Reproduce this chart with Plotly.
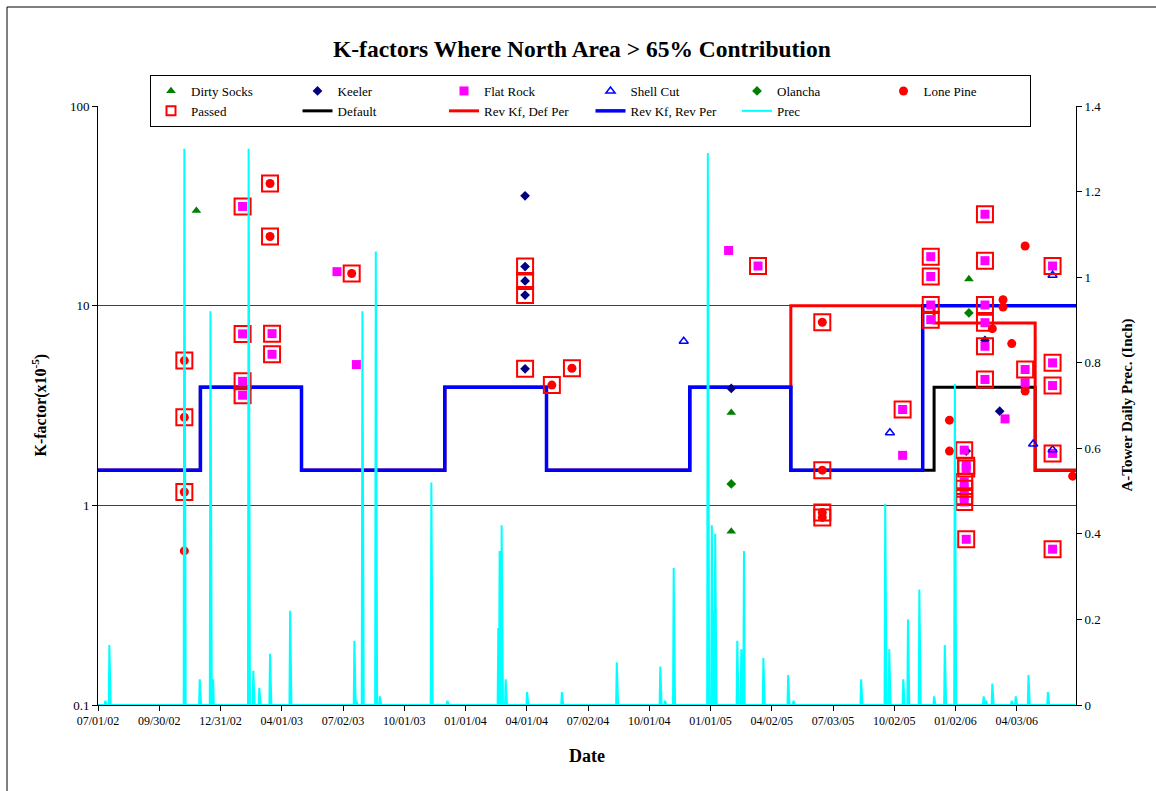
import pandas as pd
import plotly.graph_objects as go

# ---------------- K-factor observations (x10^-5) by monitoring site ----------------
dirty_socks_dates = ["2002-11-25", "2005-02-01", "2005-02-01", "2006-01-22"]
dirty_socks_kf = [29.9, 2.91, 0.74, 13.6]
dirty_socks_passed = [False, False, False, False]

keeler_dates = ["2004-03-30", "2004-03-30", "2004-03-30", "2004-03-30", "2004-03-30",
                "2005-02-01", "2006-01-18", "2006-02-15", "2006-03-09"]
keeler_kf = [35.5, 15.7, 13.3, 11.3, 4.83, 3.85, 1.87, 6.7, 2.96]
keeler_passed = [False, True, True, True, True, False, False, False, False]

flat_rock_dates = ["2003-02-02", "2003-02-02", "2003-02-02", "2003-02-02",
                   "2003-03-18", "2003-03-18", "2003-06-23", "2003-07-22",
                   "2005-01-28", "2005-03-13", "2005-10-15", "2005-10-15",
                   "2005-11-26", "2005-11-26", "2005-11-26", "2005-11-26",
                   "2006-01-15", "2006-01-15", "2006-01-15", "2006-01-15", "2006-01-15",
                   "2006-01-18", "2006-01-18", "2006-01-18",
                   "2006-02-15", "2006-02-15", "2006-02-15", "2006-02-15", "2006-02-15", "2006-02-15",
                   "2006-03-17", "2006-04-16", "2006-04-16",
                   "2006-05-27", "2006-05-27", "2006-05-27", "2006-05-27", "2006-05-27"]
flat_rock_kf = [31.4, 7.22, 4.18, 3.56,
                7.24, 5.71, 14.8, 5.07,
                18.9, 15.8, 3.02, 1.78,
                17.6, 14.0, 10.08, 8.51,
                1.89, 1.31, 1.21, 1.11, 1.04,
                1.58, 1.53, 0.676,
                28.7, 16.8, 10.08, 8.22, 6.26, 4.27,
                2.71, 4.79, 4.11,
                15.8, 5.17, 3.98, 1.82, 0.603]
flat_rock_passed = [True, True, True, True,
                    True, True, False, False,
                    False, True, True, False,
                    True, True, True, True,
                    True, True, True, True, True,
                    True, True, True,
                    True, True, True, True, True, True,
                    False, True, False,
                    True, True, True, True, True]

shell_cut_dates = ["2004-11-22", "2005-09-26", "2006-04-28", "2006-05-27", "2006-05-27"]
shell_cut_kf = [6.63, 2.31, 2.03, 1.9, 14.2]
shell_cut_passed = [False, False, False, False, False]

olancha_dates = ["2005-02-01", "2006-01-22"]
olancha_kf = [1.28, 9.19]
olancha_passed = [False, False]

lone_pine_dates = ["2002-11-07", "2002-11-07", "2002-11-07", "2002-11-07",
                   "2003-03-15", "2003-03-15", "2003-07-15",
                   "2004-05-09", "2004-06-08",
                   "2005-06-17", "2005-06-17", "2005-06-17", "2005-06-17",
                   "2005-12-24", "2005-12-24", "2006-02-26",
                   "2006-03-14", "2006-03-14", "2006-03-27",
                   "2006-04-16", "2006-04-16", "2006-06-26"]
lone_pine_kf = [5.31, 2.76, 1.166, 0.591,
                40.9, 22.2, 14.5,
                4.0, 4.86,
                8.26, 1.50, 0.92, 0.87,
                2.67, 1.87, 7.67,
                10.7, 9.85, 6.46,
                19.9, 3.74, 1.40]
lone_pine_passed = [True, True, True, False,
                    True, True, True,
                    True, True,
                    True, True, True, True,
                    False, False, False,
                    False, False, False,
                    False, False, False]

# ---------------- K-factor schedules (step functions) ----------------
default_dates = ["2002-07-01", "2002-12-01", "2003-05-01", "2003-12-01", "2004-05-01",
                 "2004-12-01", "2005-05-01", "2005-12-01", "2006-05-01", "2006-07-01"]
default_kf = [1.5, 3.9, 1.5, 3.9, 1.5, 3.9, 1.5, 3.9, 1.5, 1.5]

rev_def_dates = ["2002-07-01", "2002-12-01", "2003-05-01", "2003-12-01", "2004-05-01",
                 "2004-12-01", "2005-05-01", "2005-12-01", "2006-05-01", "2006-07-01"]
rev_def_kf = [1.5, 3.9, 1.5, 3.9, 1.5, 3.9, 10.0, 8.2, 1.5, 1.5]

rev_rev_dates = ["2002-07-01", "2002-12-01", "2003-05-01", "2003-12-01", "2004-05-01",
                 "2004-12-01", "2005-05-01", "2005-11-14", "2006-07-01"]
rev_rev_kf = [1.5, 3.9, 1.5, 3.9, 1.5, 3.9, 1.5, 10.0, 10.0]

# ---------------- A-Tower daily precipitation (inches, rain days) ----------------
rain_dates = ["2002-07-12", "2002-07-18", "2002-11-07", "2002-11-30", "2002-12-16",
              "2002-12-20", "2003-02-11", "2003-02-18", "2003-02-27", "2003-03-15",
              "2003-04-14", "2003-07-19", "2003-07-22", "2003-07-31", "2003-08-20",
              "2003-08-26", "2003-11-11", "2003-12-05", "2004-02-19", "2004-02-21",
              "2004-02-24", "2004-03-01", "2004-04-02", "2004-05-24", "2004-08-14",
              "2004-10-18", "2004-10-25", "2004-11-07", "2004-12-28", "2005-01-03",
              "2005-01-06", "2005-01-08", "2005-02-10", "2005-02-16", "2005-02-20",
              "2005-03-21", "2005-04-27", "2005-05-05", "2005-08-14", "2005-09-19",
              "2005-09-25", "2005-10-16", "2005-10-23", "2005-11-09", "2005-12-01",
              "2005-12-17", "2006-01-01", "2006-02-13", "2006-02-17", "2006-02-26",
              "2006-03-27", "2006-04-02", "2006-04-21", "2006-05-20"]
rain_inches = [0.01, 0.14, 1.30, 0.06, 0.92,
               0.06, 1.30, 0.08, 0.04, 0.12,
               0.22, 0.15, 0.01, 0.92, 1.06,
               0.02, 0.52, 0.01, 0.18, 0.36,
               0.42, 0.06, 0.03, 0.03, 0.10,
               0.09, 0.01, 0.32, 1.29, 0.42,
               0.22, 0.40, 0.15, 0.13, 0.36,
               0.11, 0.07, 0.01, 0.06, 0.47,
               0.13, 0.06, 0.20, 0.27, 0.02,
               0.14, 0.75, 0.02, 0.01, 0.05,
               0.01, 0.02, 0.07, 0.03]

x_tick_labels = ["07/01/02", "09/30/02", "12/31/02", "04/01/03", "07/02/03", "10/01/03",
                 "01/01/04", "04/01/04", "07/02/04", "10/01/04", "01/01/05", "04/02/05",
                 "07/03/05", "10/02/05", "01/02/06", "04/03/06"]

# ---------------- build figure ----------------
SERIF = "Liberation Serif, Times New Roman, serif"

# daily precipitation record: dry days are zero
all_days = pd.date_range("2002-07-01", "2006-06-30", freq="D")
prec = pd.Series(0.0, index=all_days)
prec.loc[pd.to_datetime(rain_dates)] = rain_inches

sites = [
    ("Dirty Socks", dirty_socks_dates, dirty_socks_kf, dirty_socks_passed,
     dict(symbol="triangle-up", color="#008000", size=8.5)),
    ("Keeler", keeler_dates, keeler_kf, keeler_passed,
     dict(symbol="diamond", color="#000080", size=7.5)),
    ("Flat Rock", flat_rock_dates, flat_rock_kf, flat_rock_passed,
     dict(symbol="square", color="#FF00FF", size=9)),
    ("Shell Cut", shell_cut_dates, shell_cut_kf, shell_cut_passed,
     dict(symbol="triangle-up-open", color="#0000FF", size=8,
          line=dict(color="#0000FF", width=1.5))),
    ("Olancha", olancha_dates, olancha_kf, olancha_passed,
     dict(symbol="diamond", color="#008000", size=7.5)),
    ("Lone Pine", lone_pine_dates, lone_pine_kf, lone_pine_passed,
     dict(symbol="circle", color="#FF0000", size=9)),
]

passed_x, passed_y = [], []
for _, d, k, p, _ in sites:
    for di, ki, pi in zip(d, k, p):
        if pi:
            passed_x.append(di)
            passed_y.append(ki)

fig = go.Figure()

fig.add_trace(go.Scatter(x=default_dates, y=default_kf, mode="lines", name="Default",
                         line=dict(color="#000000", width=3, shape="hv"), legendrank=8))
fig.add_trace(go.Scatter(x=rev_def_dates, y=rev_def_kf, mode="lines", name="Rev Kf, Def Per",
                         line=dict(color="#FF0000", width=3, shape="hv"), legendrank=9))
fig.add_trace(go.Scatter(x=rev_rev_dates, y=rev_rev_kf, mode="lines", name="Rev Kf, Rev Per",
                         line=dict(color="#0000FF", width=3.5, shape="hv"), legendrank=10))

for rank, (name, d, k, p, mk) in enumerate(sites, start=1):
    fig.add_trace(go.Scatter(x=d, y=k, mode="markers", name=name, marker=mk,
                             legendrank=rank))

# boxes around passed samples; the legend key uses a smaller box
passed_box = dict(symbol="square-open", color="#FF0000", line=dict(color="#FF0000", width=2))
fig.add_trace(go.Scatter(x=passed_x, y=passed_y, mode="markers", name="Passed",
                         marker=dict(size=16, **passed_box), showlegend=False))
fig.add_trace(go.Scatter(x=[None], y=[None], mode="markers", name="Passed",
                         marker=dict(size=9, **passed_box), legendrank=7))

fig.add_trace(go.Scatter(x=prec.index, y=prec.values, mode="lines", name="Prec",
                         line=dict(color="#00FFFF", width=2), yaxis="y2", legendrank=11))

tick_vals = [pd.Timestamp("2002-07-01") + pd.Timedelta(days=91.5 * i)
             for i in range(len(x_tick_labels))]

axis_font = dict(family=SERIF, size=13, color="#000000")

fig.update_layout(
    width=1156, height=791,
    margin=dict(l=98, r=80, t=106, b=86),
    paper_bgcolor="white", plot_bgcolor="white",
    font=dict(family=SERIF, color="#000000"),
    showlegend=True,
    xaxis=dict(type="date", range=["2002-07-01", "2006-07-01"],
               tickvals=tick_vals, ticktext=x_tick_labels,
               ticks="outside", ticklen=5, tickcolor="#000000",
               showline=True, linecolor="#000000", linewidth=1,
               showgrid=False, zeroline=False, tickfont=dict(family=SERIF, size=12)),
    yaxis=dict(type="log", range=[-1, 2],
               tickvals=[0.1, 1, 10, 100], ticktext=["0.1", "1", "10", "100"],
               ticks="outside", ticklen=5, tickcolor="#000000",
               showline=True, linecolor="#000000", linewidth=1,
               showgrid=True, gridcolor="#404040", gridwidth=1,
               zeroline=False, tickfont=axis_font),
    yaxis2=dict(overlaying="y", side="right", range=[0, 1.4],
                tickvals=[0, 0.2, 0.4, 0.6, 0.8, 1.0, 1.2, 1.4],
                ticktext=["0", "0.2", "0.4", "0.6", "0.8", "1", "1.2", "1.4"],
                ticks="outside", ticklen=5, tickcolor="#000000",
                showline=True, linecolor="#000000", linewidth=1,
                showgrid=False, zeroline=False, tickfont=axis_font),
    legend=dict(orientation="h", x=(150 - 98) / 978, y=(705 - 75) / 599,
                xanchor="left", yanchor="top",
                bgcolor="white", bordercolor="#000000", borderwidth=1,
                entrywidth=101.5, entrywidthmode="pixels",
                font=dict(family=SERIF, size=13, color="#000000"),
                itemsizing="trace", traceorder="normal"),
)

fig.add_annotation(text="<b>K-factors Where North Area > 65% Contribution</b>",
                   xref="paper", yref="paper", x=(582 - 98) / 978, y=(705 - 49) / 599,
                   xanchor="center", yanchor="middle",
                   showarrow=False, font=dict(family=SERIF, size=23.5, color="#000000"))
fig.add_annotation(text="<b>K-factor(x10<sup>-5</sup>)</b>", textangle=-90,
                   xref="paper", yref="paper", x=(40 - 98) / 978, y=0.5,
                   xanchor="center", yanchor="middle",
                   showarrow=False, font=dict(family=SERIF, size=16, color="#000000"))
fig.add_annotation(text="<b>A-Tower Daily Prec. (Inch)</b>", textangle=-90,
                   xref="paper", yref="paper", x=(1127 - 98) / 978, y=0.5,
                   xanchor="center", yanchor="middle",
                   showarrow=False, font=dict(family=SERIF, size=15, color="#000000"))
fig.add_annotation(text="<b>Date</b>",
                   xref="paper", yref="paper", x=(587 - 98) / 978, y=(705 - 756) / 599,
                   xanchor="center", yanchor="middle",
                   showarrow=False, font=dict(family=SERIF, size=18, color="#000000"))

# chart frame
fig.add_shape(type="rect", xref="paper", yref="paper",
              x0=(7 - 98) / 978, x1=(1170 - 98) / 978,
              y0=(705 - 800) / 599, y1=(705 - 7) / 599,
              line=dict(color="#000000", width=1), fillcolor="rgba(0,0,0,0)", layer="below")

fig.write_html("out.html")
